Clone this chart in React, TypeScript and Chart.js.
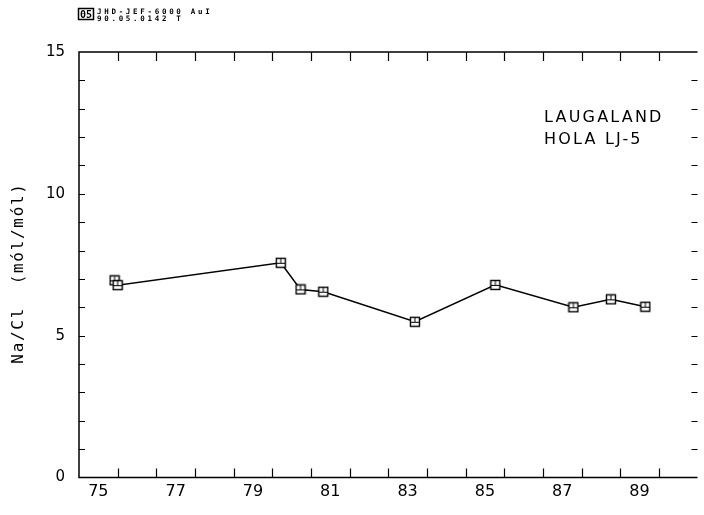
import React, { useEffect, useRef } from "react";
import { Chart, registerables } from "chart.js";

Chart.register(...registerables);

// ---- data ----
const years = [75.92, 76.0, 80.22, 80.73, 81.32, 83.69, 85.77, 87.79, 88.76, 89.65];
const naCl = [6.95, 6.78, 7.57, 6.63, 6.55, 5.49, 6.79, 6.0, 6.28, 6.02];
const xTickLabels = [75, 77, 79, 81, 83, 85, 87, 89];
const yTickLabels = [0, 5, 10, 15];
const xMin = 75;
const xMax = 91;
const yMin = 0;
const yMax = 15;
const labelLines = ["LAUGALAND", "HOLA LJ-5"];
const yTitle = "Na/Cl  (mól/mól)";
const headerLines = ["JHD-JEF-6000 AuI", "90.05.0142 T"];
const headerBadge = "05";

function makeMarker(): HTMLCanvasElement {
  const c = document.createElement("canvas");
  c.width = 12;
  c.height = 12;
  const g = c.getContext("2d")!;
  g.fillStyle = "#fff";
  g.fillRect(1, 1, 10, 10);
  g.strokeStyle = "#000";
  g.lineWidth = 1.4;
  g.strokeRect(1.5, 1.5, 9, 9);
  g.lineWidth = 1;
  g.beginPath();
  g.moveTo(6, 1.5);
  g.lineTo(6, 6.5);
  g.moveTo(1.5, 6.5);
  g.lineTo(10.5, 6.5);
  g.stroke();
  return c;
}

const framePlugin = {
  id: "plotterFrame",
  afterDraw(chart: any) {
    const { ctx, chartArea: a } = chart;
    const x = chart.scales.x;
    const y = chart.scales.y;
    ctx.save();
    ctx.strokeStyle = "#000";
    ctx.lineWidth = 1.5;
    ctx.beginPath();
    ctx.moveTo(a.right, a.top);
    ctx.lineTo(a.left, a.top);
    ctx.lineTo(a.left, a.bottom);
    ctx.lineTo(a.right, a.bottom);
    ctx.stroke();

    ctx.lineWidth = 1.2;
    ctx.beginPath();
    for (let v = xMin + 1; v < xMax; v++) {
      const px = Math.round(x.getPixelForValue(v)) + 0.5;
      ctx.moveTo(px, a.top);
      ctx.lineTo(px, a.top + 9);
      ctx.moveTo(px, a.bottom);
      ctx.lineTo(px, a.bottom - 9);
    }
    for (let v = yMin + 1; v < yMax; v++) {
      const py = Math.round(y.getPixelForValue(v)) + 0.5;
      ctx.moveTo(a.left, py);
      ctx.lineTo(a.left + 6, py);
      ctx.moveTo(a.right, py);
      ctx.lineTo(a.right - 6, py);
    }
    ctx.stroke();

    // annotation
    ctx.fillStyle = "#000";
    ctx.font = "16px 'DejaVu Sans'";
    (ctx as any).letterSpacing = "2.2px";
    ctx.textAlign = "left";
    ctx.textBaseline = "alphabetic";
    ctx.fillText(labelLines[0], 544, 122);
    ctx.fillText(labelLines[1], 544, 144);

    // y title
    ctx.font = "16px 'DejaVu Sans Mono'";
    (ctx as any).letterSpacing = "1.7px";
    ctx.save();
    ctx.translate(19, 273);
    ctx.rotate(-Math.PI / 2);
    ctx.textAlign = "center";
    ctx.textBaseline = "middle";
    ctx.fillText(yTitle, 0, 0);
    ctx.restore();

    // header
    ctx.lineWidth = 1.5;
    ctx.strokeRect(78.5, 8.5, 15, 11);
    (ctx as any).letterSpacing = "0px";
    ctx.font = "bold 10px 'DejaVu Sans Mono'";
    ctx.textAlign = "center";
    ctx.textBaseline = "alphabetic";
    ctx.fillText(headerBadge, 86, 18);
    ctx.font = "bold 7.5px 'DejaVu Sans Mono'";
    (ctx as any).letterSpacing = "2.7px";
    ctx.textAlign = "left";
    ctx.fillText(headerLines[0], 97, 13.5);
    ctx.fillText(headerLines[1], 97, 20.5);
    ctx.restore();
  },
};

export default function App() {
  const ref = useRef<HTMLCanvasElement>(null);
  useEffect(() => {
    document.body.style.margin = "0";
    const marker = makeMarker();
    const chart = new Chart(ref.current!, {
      type: "scatter",
      data: {
        datasets: [
          {
            data: years.map((v, i) => ({ x: v, y: naCl[i] })),
            showLine: true,
            borderColor: "#000",
            borderWidth: 1.5,
            backgroundColor: "#fff",
            pointStyle: marker as any,
            pointRadius: 5,
            tension: 0,
          },
        ],
      },
      options: {
        animation: false,
        responsive: false,
        layout: { padding: { top: 52, left: 0, right: 0, bottom: 0 } },
        plugins: { legend: { display: false }, tooltip: { enabled: false } },
        scales: {
          x: {
            type: "linear",
            min: xMin,
            max: xMax,
            grid: { display: false, drawTicks: false },
            border: { display: false },
            afterBuildTicks: (s: any) => {
              s.ticks = xTickLabels.map((v) => ({ value: v + 0.5 }));
            },
            afterFit: (s: any) => {
              s.height = 37.5;
            },
            ticks: {
              autoSkip: false,
              maxRotation: 0,
              padding: 5,
              color: "#000",
              font: { family: "'DejaVu Sans'", size: 16 },
              callback: (_v: any, i: number) => String(xTickLabels[i]),
            },
          },
          y: {
            type: "linear",
            min: yMin,
            max: yMax,
            grid: { display: false, drawTicks: false },
            border: { display: false },
            afterBuildTicks: (s: any) => {
              s.ticks = yTickLabels.map((v) => ({ value: v }));
            },
            afterFit: (s: any) => {
              s.width = 79;
            },
            ticks: {
              autoSkip: false,
              padding: 14,
              color: "#000",
              font: { family: "'DejaVu Sans'", size: 15 },
              callback: (v: any) => String(v),
            },
          },
        },
      },
      plugins: [framePlugin],
    });
    return () => chart.destroy();
  }, []);
  return (
    <div style={{ width: 704, height: 515 }}>
      <canvas ref={ref} width={704} height={515} style={{ display: "block", width: 704, height: 515 }} />
    </div>
  );
}
